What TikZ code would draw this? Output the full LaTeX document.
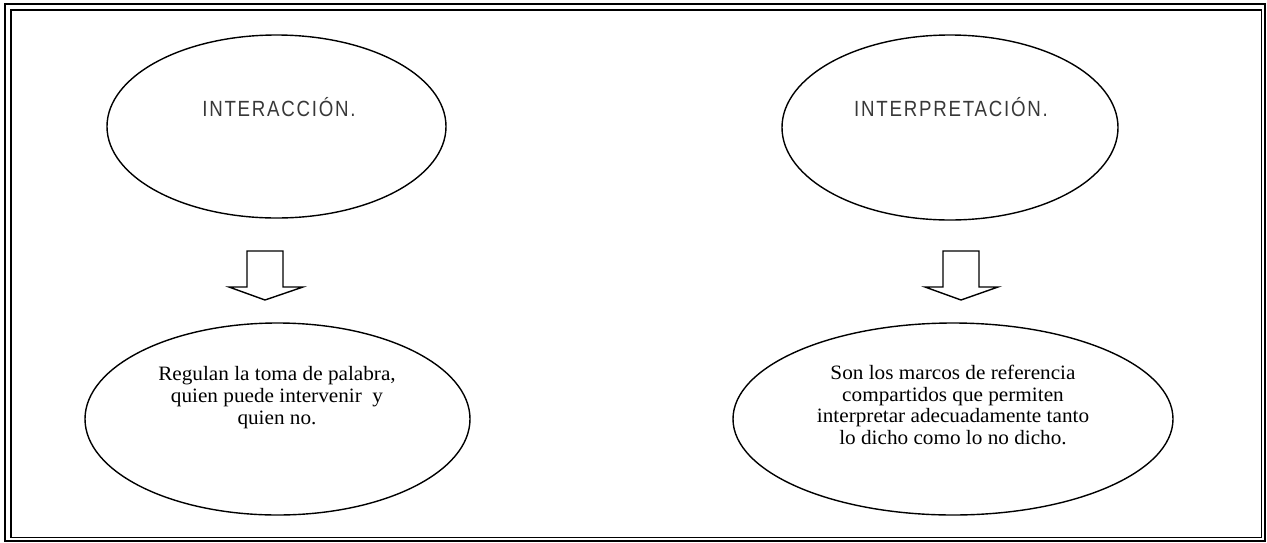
\documentclass[tikz,border=0pt]{standalone}
\usepackage{fontspec}
\setmainfont{Liberation Serif}
\newfontfamily\bodyfont[FakeStretch=1.04]{Liberation Serif}
\newfontfamily\titlefont[FakeStretch=0.85,LetterSpace=8]{Liberation Sans}
\usetikzlibrary{shapes.geometric}
\begin{document}
\begin{tikzpicture}[x=1pt,y=-1pt,
  oval/.style={draw, ellipse, line width=1.4pt, inner sep=0pt},
  titletext/.style={font=\titlefont\fontsize{22}{24}\selectfont, text=black!78, inner sep=0pt, anchor=base},
  bodytext/.style={font=\bodyfont\fontsize{20.4}{21.6}\selectfont, align=center, inner sep=0pt, anchor=north},
  blockarrow/.style={draw, line width=1.4pt, line join=miter, fill=white},
  frameouter/.style={draw, line width=2pt},
  frameinner/.style={draw, line width=1.6pt}]
\useasboundingbox (0,0) rectangle (1267,542);
% frame
\draw[frameouter] (5,4) rectangle (1265,541);
\draw[frameinner] (11,10) rectangle (1261.5,537.5);
% ellipses
\node[oval, minimum width=339pt, minimum height=183pt] (e1) at (276.5,126.5) {};
\node[oval, minimum width=336pt, minimum height=185pt] (e2) at (950,127.5) {};
\node[oval, minimum width=385pt, minimum height=192pt] (e3) at (277.5,419) {};
\node[oval, minimum width=440pt, minimum height=192pt] (e4) at (953,419) {};
% texts
\node[titletext] (t1) at (279,116) {INTERACCIÓN.};
\node[titletext] (t2) at (951,116) {INTERPRETACIÓN.};
\node[bodytext] (b1) at (277,366.5) {Regulan la toma de palabra,\\ quien puede intervenir\ \ y\\ quien no.};
\node[bodytext] (b2) at (953,365) {Son los marcos de referencia\\ compartidos que permiten\\ interpretar adecuadamente tanto\\ lo dicho como lo no dicho.};
% block arrows
\draw[blockarrow] (247,251) -- (283,251) -- (283,287) -- (303,287) -- (265,300) -- (229,287) -- (247,287) -- cycle;
\draw[blockarrow] (943,251) -- (979,251) -- (979,287) -- (998,287) -- (961,300) -- (925,287) -- (943,287) -- cycle;
\end{tikzpicture}
\end{document}
